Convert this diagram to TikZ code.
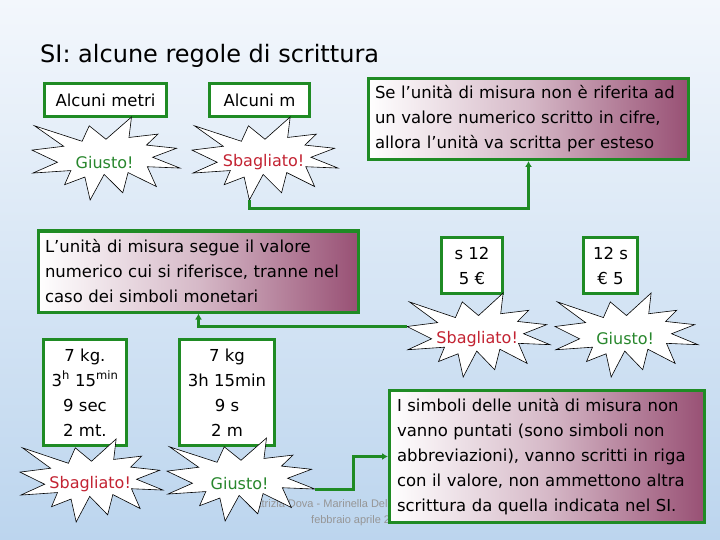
\documentclass[tikz,border=0pt]{standalone}
\usepackage{fontspec}
\setmainfont{DejaVu Sans}
\newfontfamily\footfont{Liberation Sans}
\usepackage{tikz}
\usetikzlibrary{arrows.meta}

\definecolor{boxgreen}{RGB}{31,139,36}
\definecolor{rulepurple}{RGB}{152,80,116}
\definecolor{okgreen}{RGB}{40,135,45}
\definecolor{badred}{RGB}{195,35,50}
\definecolor{bgtop}{RGB}{243,247,252}
\definecolor{bgbot}{RGB}{188,213,238}
\definecolor{footgray}{RGB}{150,150,150}

\newcommand{\boom}[7]{%
  \begin{scope}[shift={(#2,#3)}, xscale=#4/216, yscale=#5/216]
    \draw[boomline] (108,58) -- (145.22,0) -- (141.55,53.25) -- (183.80,44.57)
      -- (167.02,73.15) -- (210.97,81.37) -- (176.07,104.75) -- (216,132.90)
      -- (168.37,129.42) -- (181.45,180.95) -- (140.20,144.57) -- (132.47,197.37)
      -- (105.32,149.35) -- (84.85,216) -- (77.15,156.27) -- (47.62,176.17)
      -- (56.67,139.37) -- (1.35,145.87) -- (37.22,117.75) -- (0,86.15)
      -- (46.27,76.17) -- (3.70,22.95) -- (73.12,63.20) -- (83.52,22.95) -- cycle;
    \coordinate (#1-s) at (84.85,216);
    \coordinate (#1-w) at (0,86.15);
    \coordinate (#1-e) at (216,132.90);
    \node[boomtext, text=#6] (#1) at (106,118) {#7};
  \end{scope}}

\begin{document}
\begin{tikzpicture}[x=1pt, y=-1pt,
    every node/.style={font=\fontsize{16.5}{25}\selectfont},
    labelbox/.style={draw=boxgreen, line width=3pt, fill=white, align=center, inner sep=0pt},
    rulebox/.style={draw=boxgreen, line width=3pt, left color=white, right color=rulepurple,
        middle color=rulepurple!40!white, align=left, inner xsep=6.5pt, inner ysep=0pt},
    boomline/.style={draw=black, fill=white, line width=0.6pt},
    boomtext/.style={font=\fontsize{16}{20}\selectfont},
    footnote/.style={font=\footfont\fontsize{11}{12}\selectfont, text=footgray, anchor=base west, inner sep=0pt},
    link/.style={draw=boxgreen, line width=3pt, -{Latex[length=6pt,width=7pt]}}]

    \useasboundingbox (0,0) rectangle (720,540);
    \shade[top color=bgtop, bottom color=bgbot] (0,0) rectangle (720,540);

    \node[font=\fontsize{24}{28}\selectfont, anchor=base west, inner sep=0pt] (title) at (40,63)
        {SI: alcune regole di scrittura};

    \node[footnote] (authors) at (248,507) {Patrizia Dova - Marinella Del};
    \node[footnote] (dates) at (311,523) {febbraio aprile 2007};

    \node[labelbox, minimum width=122pt, minimum height=33pt] (metri) at (105.5,100) {Alcuni metri};
    \node[labelbox, minimum width=100pt, minimum height=33pt] (soloM) at (259.5,100) {Alcuni m};
    \boom{giustoA}{32}{117}{148}{83}{okgreen}{Giusto!}
    \boom{sbagliatoA}{192}{117}{146}{83}{badred}{Sbagliato!}

    \node[rulebox, text width=307pt, minimum height=81pt] (ruleA) at (528.5,119)
        {Se l’unità di misura non è riferita ad\\ un valore numerico scritto in cifre,\\
         allora l’unità va scritta per esteso};

    \node[rulebox, text width=307pt, minimum height=81pt] (ruleB) at (198.5,271.5)
        {L’unità di misura segue il valore\\ numerico cui si riferisce, tranne nel\\
         caso dei simboli monetari};

    \node[labelbox, minimum width=61pt, minimum height=56pt] (moneyWrong) at (472,265.5) {s 12\\ 5 €};
    \node[labelbox, minimum width=54pt, minimum height=56pt] (moneyRight) at (610.5,265.5) {12 s\\ € 5};
    \boom{sbagliatoB}{407}{293}{143}{84}{badred}{Sbagliato!}
    \boom{giustoB}{555}{293}{143}{84}{okgreen}{Giusto!}

    \node[labelbox, minimum width=83pt, minimum height=106pt] (unitsWrong) at (85,392.5)
        {7 kg.\\ 3\textsuperscript{h} 15\textsuperscript{min}\\ 9 sec\\ 2 mt.};
    \node[labelbox, minimum width=95pt, minimum height=106pt] (unitsRight) at (227,392.5)
        {7 kg\\ 3h 15min\\ 9 s\\ 2 m};
    \boom{sbagliatoC}{20}{439}{143}{83}{badred}{Sbagliato!}
    \boom{giustoC}{167}{438}{148}{83}{okgreen}{Giusto!}

    \node[rulebox, text width=300pt, inner xsep=7.5pt, minimum height=132pt] (ruleC) at (547,456.5)
        {I simboli delle unità di misura non\\ vanno puntati (sono simboli non\\
         abbreviazioni), vanno scritti in riga\\ con il valore, non ammettono altra\\
         scrittura da quella indicata nel SI.};

    \draw[link] (sbagliatoA-s) -- ++(0,9) -| (ruleA.south);
    \draw[link] (sbagliatoB-w) -| (ruleB.south);
    \draw[link] (giustoC-e) -- ++(38,0) |- (ruleC.west);
\end{tikzpicture}
\end{document}
